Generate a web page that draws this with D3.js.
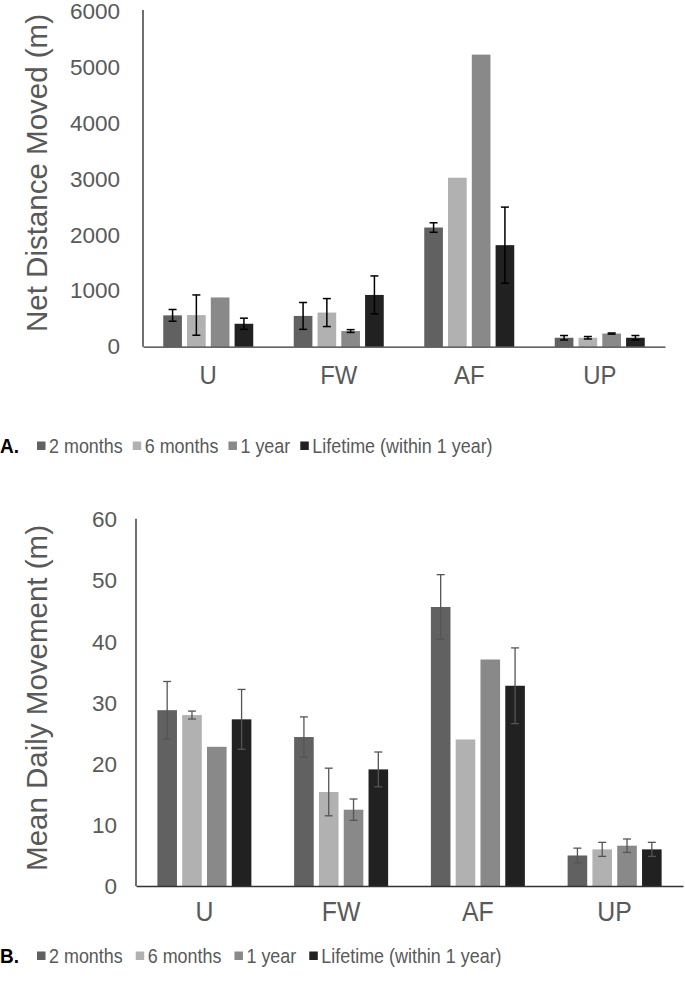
<!DOCTYPE html>
<html>
<head>
<meta charset="utf-8">
<script src="https://cdn.jsdelivr.net/npm/d3@7"></script>
<style>
  html, body { margin: 0; padding: 0; background: #fff; }
  svg { display: block; font-family: "Liberation Sans", Arial, sans-serif; }
</style>
</head>
<body>
<svg id="chart" width="685" height="997"></svg>
<script>
// ---------- data ----------
const categories = ["U", "FW", "AF", "UP"];
const seriesNames = ["2 months", "6 months", "1 year", "Lifetime (within 1 year)"];
const seriesColors = ["#616161", "#b1b1b1", "#898989", "#212121"];

// Panel A: Net Distance Moved (m)
const netMean = [
  [560, 550, 2130, 160],   // 2 months
  [565, 610, 3020, 160],   // 6 months
  [880, 280, 5220, 235],   // 1 year
  [410, 925, 1815, 160]    // Lifetime
];
const netErr = [
  [105, 240, 85, 40],
  [360, 250, 0, 22],
  [0, 25, 0, 10],
  [100, 340, 680, 40]
];
const netTicks = [0, 1000, 2000, 3000, 4000, 5000, 6000];

// Panel B: Mean Daily Movement (m)
const dailyMean = [
  [28.8, 24.4, 45.7, 5.0],
  [28.0, 15.4, 24.0, 6.0],
  [22.8, 12.5, 37.1, 6.6],
  [27.3, 19.1, 32.8, 6.0]
];
const dailyErr = [
  [4.7, 3.3, 5.3, 1.2],
  [0.65, 3.9, 0, 1.15],
  [0, 1.75, 0, 1.1],
  [4.9, 2.85, 6.2, 1.15]
];
const dailyTicks = [0, 10, 20, 30, 40, 50, 60];

// ---------- drawing ----------
const svg = d3.select("#chart");
const textColor = "#595959";

function panel(opt) {
  const g = svg.append("g");
  const x0 = d3.scaleBand().domain(categories).range([opt.left, opt.right]).paddingInner(0).paddingOuter(0);
  const groupW = opt.groupW;
  const x1 = d3.scaleBand().domain(d3.range(seriesNames.length))
    .range([(x0.bandwidth() - groupW) / 2, (x0.bandwidth() + groupW) / 2])
    .paddingInner(opt.barGap);
  const y = d3.scaleLinear().domain([0, opt.max]).range([opt.bottom, opt.top]);

  // bars
  seriesNames.forEach((s, si) => {
    categories.forEach((c, ci) => {
      const v = opt.mean[si][ci];
      g.append("rect")
        .attr("x", x0(c) + x1(si))
        .attr("y", y(v))
        .attr("width", x1.bandwidth())
        .attr("height", y(0) - y(v))
        .attr("fill", seriesColors[si]);
    });
  });
  // error bars
  seriesNames.forEach((s, si) => {
    categories.forEach((c, ci) => {
      const v = opt.mean[si][ci], e = opt.err[si][ci];
      if (!e) return;
      const cx = x0(c) + x1(si) + x1.bandwidth() / 2;
      const eg = g.append("g").attr("stroke", opt.errColor).attr("stroke-width", opt.errW);
      eg.append("line").attr("x1", cx).attr("x2", cx).attr("y1", y(v + e)).attr("y2", y(v - e));
      eg.append("line").attr("x1", cx - 4).attr("x2", cx + 4).attr("y1", y(v + e)).attr("y2", y(v + e));
      eg.append("line").attr("x1", cx - 4).attr("x2", cx + 4).attr("y1", y(v - e)).attr("y2", y(v - e));
    });
  });

  // y axis
  const ya = g.append("g").attr("transform", `translate(${opt.left},0)`)
    .call(d3.axisLeft(y).tickValues(opt.ticks).tickFormat(d3.format("d"))
      .tickSize(0).tickPadding(opt.tickPad).tickSizeOuter(0));
  ya.select(".domain").attr("stroke", "#222").attr("stroke-width", 1.3)
    .attr("d", `M0,${opt.bottom}V${opt.top - 1}`);
  ya.selectAll("text").attr("font-size", opt.tickFont).attr("fill", textColor)
    .attr("font-family", "Liberation Sans, Arial, sans-serif");

  // x axis
  const xa = g.append("g").attr("transform", `translate(0,${opt.bottom})`)
    .call(d3.axisBottom(x0).tickSize(0).tickPadding(opt.catPad).tickSizeOuter(0));
  xa.select(".domain").attr("stroke", "#333").attr("stroke-width", 1.3);
  xa.selectAll(".tick text").each(function () {
    const t = d3.select(this);
    const yy = +t.attr("y");
    t.attr("y", null).attr("dy", null)
      .attr("transform", `translate(0,${yy}) scale(0.92,1)`)
      .attr("dy", "0.71em");
  });
  xa.selectAll("text").attr("font-size", opt.catFont).attr("fill", textColor)
    .attr("font-family", "Liberation Sans, Arial, sans-serif");

  // y label
  g.append("text")
    .attr("transform", `translate(${opt.ylabX},${opt.ylabY}) rotate(-90)`)
    .attr("text-anchor", "middle")
    .attr("font-size", opt.ylabFont)
    .attr("fill", textColor)
    .text(opt.ylabel);

  // legend
  const lg = g.append("g").attr("transform", `translate(0,${opt.legY})`);
  lg.append("text").attr("x", 0).attr("y", 0).attr("dy", "0.35em")
    .attr("transform", "scale(0.95,1)")
    .attr("font-size", 20).attr("font-weight", "bold").attr("fill", "#000").text(opt.tag);
  let cx = 37;
  seriesNames.forEach((s, si) => {
    lg.append("rect").attr("x", cx).attr("y", -4.5).attr("width", 8.5).attr("height", 8.5)
      .attr("fill", seriesColors[si]);
    const t = lg.append("text").attr("x", 0).attr("y", 0).attr("dy", "0.35em")
      .attr("transform", `translate(${cx + 12},0) scale(0.92,1)`)
      .attr("font-size", 19.5).attr("fill", textColor).text(s);
    cx = cx + 12 + t.node().getComputedTextLength() * 0.92 + opt.legGap;
  });
}

panel({
  left: 143, right: 665, top: 11, bottom: 346.7, max: 6000,
  mean: netMean, err: netErr, ticks: netTicks,
  groupW: 90, barGap: 0.215, errColor: "#000", errW: 1.5,
  tickPad: 23, tickFont: 22.5, catPad: 19, catFont: 26,
  ylabX: 47, ylabY: 173, ylabFont: 29.5, ylabel: "Net Distance Moved (m)",
  legY: 446, tag: "A.", legGap: 10
});

panel({
  left: 136, right: 683, top: 519.7, bottom: 886, max: 60,
  mean: dailyMean, err: dailyErr, ticks: dailyTicks,
  groupW: 94, barGap: 0.21, errColor: "#555", errW: 1.3,
  tickPad: 19, tickFont: 22.5, catPad: 16, catFont: 27,
  ylabX: 47, ylabY: 698, ylabFont: 29.5, ylabel: "Mean Daily Movement (m)",
  legY: 956, tag: "B.", legGap: 13
});
</script>
</body>
</html>
